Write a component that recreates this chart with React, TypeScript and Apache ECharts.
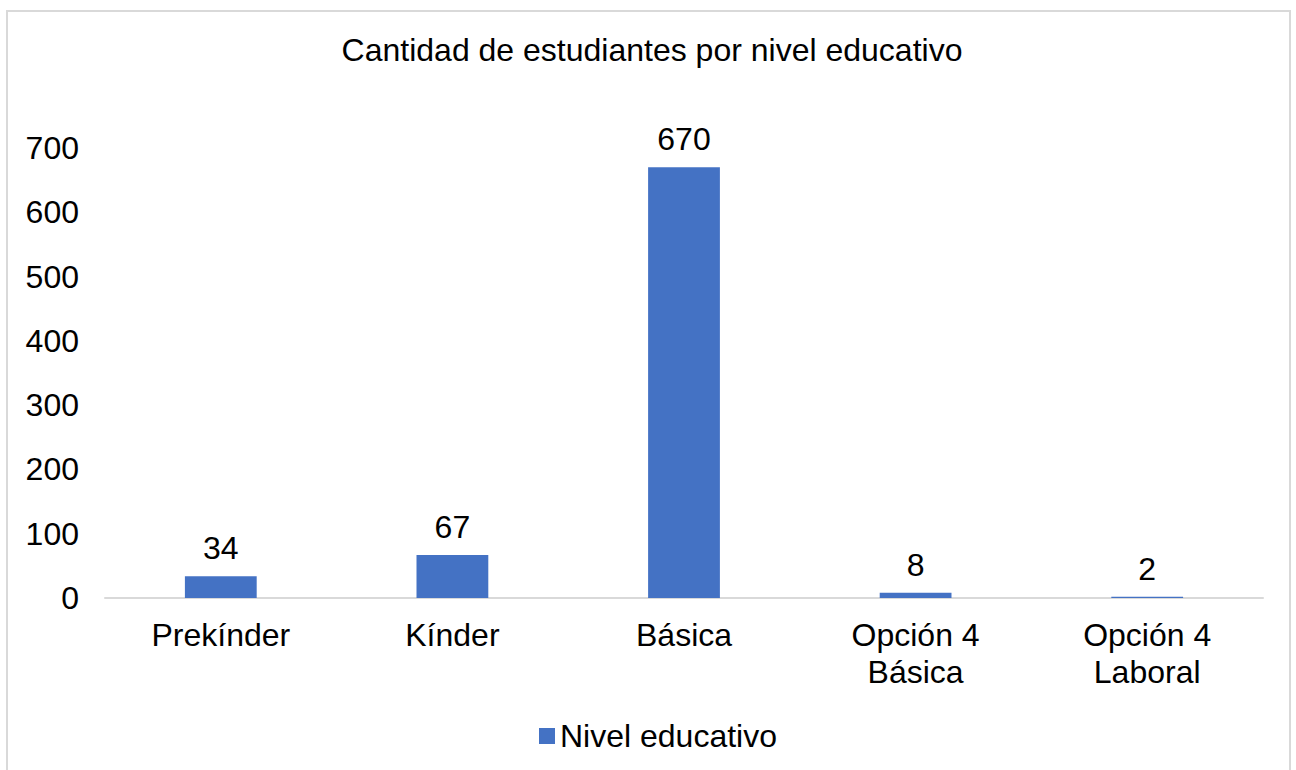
import React, { useEffect, useRef } from "react";
import * as echarts from "echarts";

const titleText = "Cantidad de estudiantes por nivel educativo";
const seriesName = "Nivel educativo";
const categories = ["Prekínder", "Kínder", "Básica", "Opción 4\nBásica", "Opción 4\nLaboral"];
const values = [34, 67, 670, 8, 2];

const FONT = "'Liberation Sans', Arial, sans-serif";

export default function App() {
  const ref = useRef<HTMLDivElement>(null);
  useEffect(() => {
    if (!ref.current) return;
    const chart = echarts.init(ref.current, null, { renderer: "svg" });
    chart.setOption({
      animation: false,
      backgroundColor: "#ffffff",
      textStyle: { fontFamily: FONT, color: "#000" },
      graphic: [
        {
          type: "rect",
          shape: { x: 7, y: 11, width: 1283, height: 790 },
          style: { fill: "none", stroke: "#d9d9d9", lineWidth: 2 },
          silent: true,
          z: -1,
        },
      ],
      title: {
        text: titleText,
        left: 647,
        textAlign: "center",
        top: 29,
        textStyle: { fontFamily: FONT, fontSize: 32, fontWeight: "normal", color: "#000" },
      },
      legend: {
        left: 534,
        top: 715,
        itemWidth: 16,
        itemHeight: 16,
        icon: "rect",
        textStyle: { fontFamily: FONT, fontSize: 32, color: "#000" },
        data: [seriesName],
      },
      grid: { left: 105, right: 33, top: 148, bottom: 172, containLabel: false },
      xAxis: {
        type: "category",
        data: categories,
        axisLine: { show: true, lineStyle: { color: "#d9d9d9", width: 2 } },
        axisTick: { show: false },
        axisLabel: {
          fontFamily: FONT,
          fontSize: 32,
          color: "#000",
          lineHeight: 37,
          margin: 18,
          interval: 0,
        },
      },
      yAxis: {
        type: "value",
        min: 0,
        max: 700,
        interval: 100,
        splitLine: { show: false },
        axisLine: { show: false },
        axisTick: { show: false },
        axisLabel: { fontFamily: FONT, fontSize: 32, color: "#000", margin: 26 },
      },
      series: [
        {
          name: seriesName,
          type: "bar",
          data: values,
          barWidth: "31%",
          itemStyle: { color: "#4472C4" },
          label: {
            show: true,
            position: "top",
            distance: 12,
            fontFamily: FONT,
            fontSize: 32,
            color: "#000",
          },
        },
      ],
    });
    return () => chart.dispose();
  }, []);
  return (
    <div
      ref={ref}
      style={{ position: "fixed", left: 0, top: 0, width: 1296, height: 770 }}
    />
  );
}
